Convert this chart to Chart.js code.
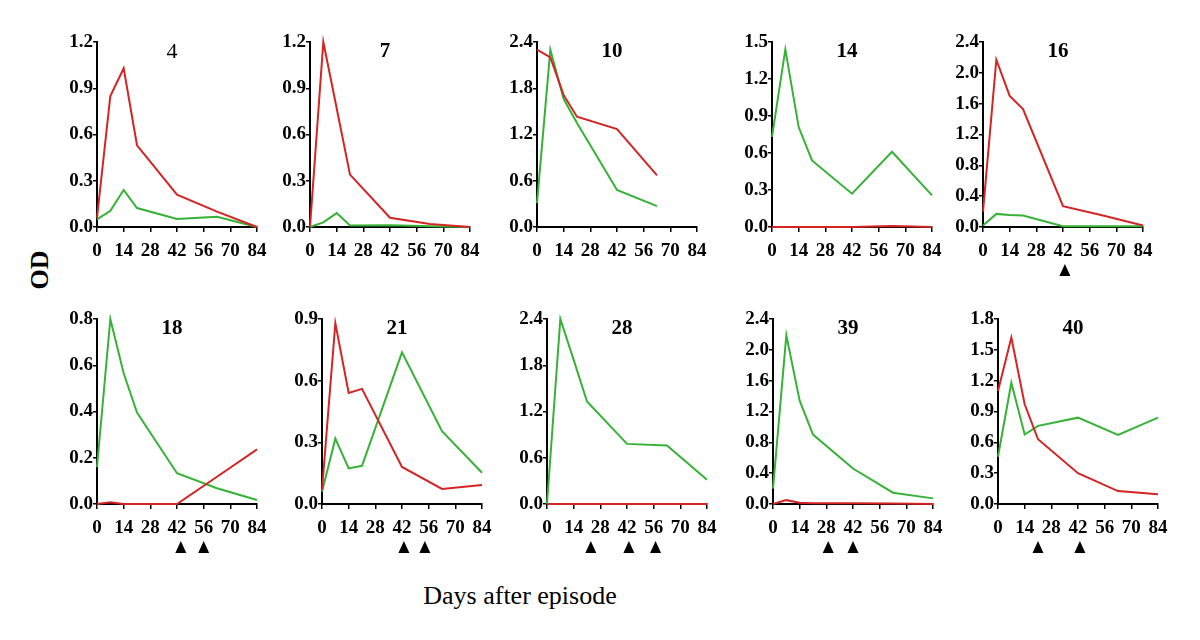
<!DOCTYPE html>
<html>
<head>
<meta charset="utf-8">
<script src="https://cdn.jsdelivr.net/npm/chart.js@4/dist/chart.umd.min.js"></script>
<style>
  body { margin: 0; background: #fff; width: 1200px; height: 640px; overflow: hidden; position: relative; font-family: "Liberation Serif", serif; }
  canvas.panel { position: absolute; }
  #od { position: absolute; left: 16px; top: 255px; width: 48px; text-align: center; font-weight: bold; font-size: 26px; transform: rotate(-90deg); }
  #dias { position: absolute; left: 320px; top: 581px; width: 400px; text-align: center; font-size: 26px; }
</style>
</head>
<body>
<div id="od">OD</div>
<div id="dias">Days after episode</div>
<script>
// dias de muestreo
const dias = [0, 7, 14, 21, 42, 63, 84];
const diasCortos = [0, 7, 14, 21, 42, 63];
const ticksX = [0, 14, 28, 42, 56, 70, 84];

const paneles = ['4', '7', '10', '14', '16', '18', '21', '28', '39', '40'];

// curvas rojas
const rojo4  = [0.06, 0.85, 1.03, 0.53, 0.21, 0.10, 0.00];
const rojo7  = [0.00, 1.20, 0.77, 0.34, 0.06, 0.02, 0.00];
const rojo10 = [2.30, 2.20, 1.71, 1.43, 1.27, 0.67];
const rojo14 = [0.00, 0.00, 0.00, 0.00, 0.00, 0.008, 0.00];
const rojo16 = [0.20, 2.17, 1.70, 1.53, 0.27, 0.15, 0.02];
const rojo18 = [0.00, 0.007, 0.00, 0.00, 0.00, 0.118, 0.236];
const rojo21 = [0.068, 0.88, 0.54, 0.56, 0.18, 0.073, 0.092];
const rojo28 = [0.00, 0.00, 0.00, 0.00, 0.00, 0.00, 0.00];
const rojo39 = [0.00, 0.05, 0.015, 0.01, 0.01, 0.005, 0.00];
const rojo40 = [1.10, 1.62, 0.97, 0.63, 0.30, 0.126, 0.094];

// curvas verdes
const verde4  = [0.05, 0.105, 0.24, 0.123, 0.052, 0.067, 0.00];
const verde7  = [0.00, 0.03, 0.09, 0.01, 0.012, 0.005, 0.00];
const verde10 = [0.31, 2.30, 1.66, 1.35, 0.48, 0.27];
const verde14 = [0.73, 1.44, 0.81, 0.54, 0.27, 0.61, 0.256];
const verde16 = [0.02, 0.17, 0.155, 0.15, 0.01, 0.01, 0.01];
const verde18 = [0.16, 0.80, 0.565, 0.395, 0.133, 0.068, 0.017];
const verde21 = [0.06, 0.318, 0.173, 0.186, 0.738, 0.354, 0.152];
const verde28 = [0.00, 2.40, 1.87, 1.33, 0.78, 0.76, 0.316];
const verde39 = [0.20, 2.19, 1.34, 0.90, 0.46, 0.147, 0.073];
const verde40 = [0.46, 1.18, 0.676, 0.76, 0.84, 0.673, 0.84];

const rojos = [rojo4, rojo7, rojo10, rojo14, rojo16, rojo18, rojo21, rojo28, rojo39, rojo40];
const verdes = [verde4, verde7, verde10, verde14, verde16, verde18, verde21, verde28, verde39, verde40];

// eje y
const yMax  = [1.2, 1.2, 2.4, 1.5, 2.4, 0.8, 0.9, 2.4, 2.4, 1.8];
const yPaso = [0.3, 0.3, 0.6, 0.3, 0.4, 0.2, 0.3, 0.6, 0.4, 0.3];

// triangulos bajo el eje (dias)
const flechas = [[], [], [], [], [43], [44, 56], [43, 54], [23, 43, 57], [29, 42], [21, 43]];

// posicion de cada panel en la pagina (borde del eje y, borde superior)
const ejeIzq = [97, 310, 537, 772, 983, 97, 322, 547, 773, 998];
const ejeArriba = [42, 42, 42, 42, 42, 319, 319, 319, 319, 319];

const ROJO = '#d42424';
const VERDE = '#36b236';
const fuenteTick = { family: 'Liberation Serif', size: 19, weight: 'bold' };

const extras = {
  id: 'extras',
  afterDraw(chart) {
    const { ctx, chartArea, scales } = chart;
    const op = chart.options.plugins.extras;
    ctx.save();
    ctx.fillStyle = '#000';
    ctx.font = op.fuente;
    ctx.textAlign = 'center';
    ctx.textBaseline = 'middle';
    ctx.fillText(op.titulo, (chartArea.left + chartArea.right) / 2 - 5, chartArea.top + 10);
    op.flechas.forEach(d => {
      const x = scales.x.getPixelForValue(d);
      const y = chartArea.bottom + 43;
      ctx.beginPath();
      ctx.moveTo(x, y - 6);
      ctx.lineTo(x + 5.5, y + 6);
      ctx.lineTo(x - 5.5, y + 6);
      ctx.closePath();
      ctx.fill();
    });
    ctx.restore();
  }
};

function aPuntos(valores) {
  const xs = valores.length === diasCortos.length ? diasCortos : dias;
  return valores.map((v, i) => ({ x: xs[i], y: v }));
}

function crearPanel(i) {
  const canvas = document.createElement('canvas');
  canvas.className = 'panel';
  canvas.width = 230;
  canvas.height = 255;
  canvas.style.left = (ejeIzq[i] - 60) + 'px';
  canvas.style.top = (ejeArriba[i] - 10) + 'px';
  document.body.appendChild(canvas);

  new Chart(canvas, {
    type: 'line',
    data: {
      datasets: [
        { data: aPuntos(rojos[i]), borderColor: ROJO, borderWidth: 2, pointRadius: 0, tension: 0, clip: false },
        { data: aPuntos(verdes[i]), borderColor: VERDE, borderWidth: 2, pointRadius: 0, tension: 0, clip: false }
      ]
    },
    options: {
      responsive: false,
      animation: false,
      devicePixelRatio: 1,
      layout: { padding: { top: 10, right: 10, bottom: 30, left: 0 } },
      plugins: {
        legend: { display: false },
        tooltip: { enabled: false },
        extras: {
          titulo: paneles[i],
          fuente: i === 0 ? '22px "Liberation Serif"' : 'bold 21px "Liberation Serif"',
          flechas: flechas[i]
        }
      },
      scales: {
        x: {
          type: 'linear', min: 0, max: 84,
          afterBuildTicks: s => { s.ticks = ticksX.map(v => ({ value: v })); },
          ticks: { font: fuenteTick, color: '#000', padding: 8, maxRotation: 0, autoSkip: false },
          grid: { drawOnChartArea: false, tickLength: 5, color: '#000', lineWidth: 1.5 },
          border: { color: '#000', width: 2 },
          afterFit: s => { s.height = 30; s.paddingRight = 0; s.paddingLeft = 0; }
        },
        y: {
          min: 0, max: yMax[i],
          ticks: { stepSize: yPaso[i], font: fuenteTick, color: '#000', padding: 0, callback: v => v.toFixed(1) },
          grid: { drawOnChartArea: false, tickLength: 4, color: '#000', lineWidth: 1.5 },
          border: { color: '#000', width: 2 },
          afterFit: s => { s.width = 60; s.paddingTop = 0; s.paddingBottom = 0; }
        }
      }
    },
    plugins: [extras]
  });
}

paneles.forEach((p, i) => crearPanel(i));
</script>
</body>
</html>
